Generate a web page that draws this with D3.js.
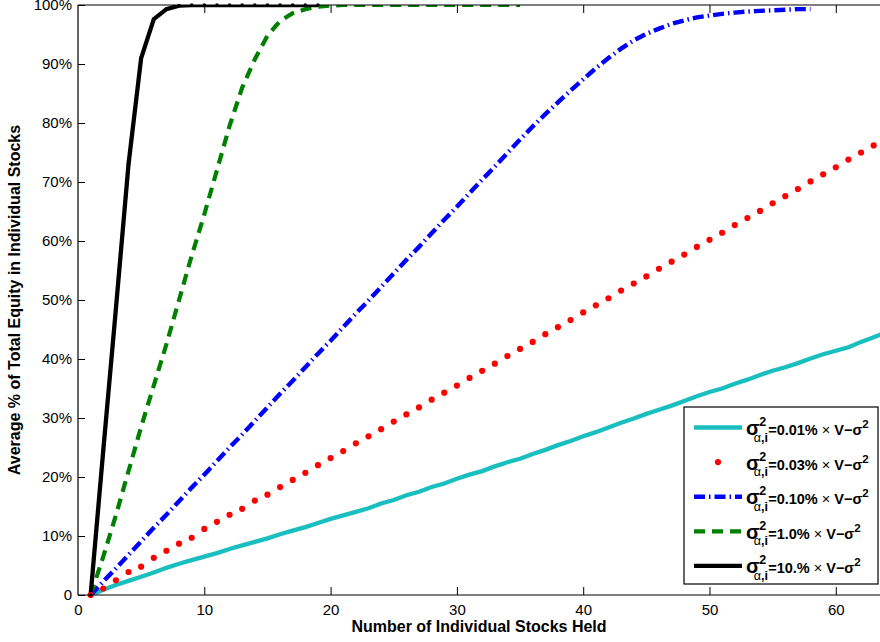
<!DOCTYPE html>
<html><head><meta charset="utf-8">
<script src="https://cdn.jsdelivr.net/npm/d3@7"></script>
<style>
body{margin:0;background:#fff}
svg{display:block}
text{font-family:"Liberation Sans",Arial,Helvetica,sans-serif;fill:#000}
</style></head>
<body>
<svg id="chart" width="880" height="642"></svg>
<script>
// ---- data (values in %, index 0 = 1 stock held) ----
const cyanVals = [0,0.9,1.7,2.4,3.1,3.8,4.6,5.3,5.9,6.5,7.1,7.8,8.4,9.0,9.6,10.3,10.9,11.5,12.2,12.9,
  13.5,14.1,14.7,15.5,16.1,16.9,17.5,18.3,18.9,19.7,20.4,21.0,21.8,22.5,23.1,23.9,24.6,25.4,26.1,26.9,
  27.6,28.4,29.2,29.9,30.7,31.4,32.1,32.9,33.7,34.4,35.0,35.8,36.5,37.3,38.0,38.6,39.3,40.1,40.8,41.4,
  42.0,42.9,43.7,44.5];
const redVals = [0,1.1,2.5,3.9,4.8,6.3,7.5,8.7,9.7,11.2,12.4,13.6,14.6,16.0,17.0,18.3,19.5,20.7,22.0,23.2,
  24.4,25.7,26.9,28.1,29.4,30.6,31.8,33.1,34.3,35.5,36.8,38.0,39.2,40.5,41.7,42.9,44.2,45.4,46.6,47.9,
  49.1,50.3,51.6,52.8,54.0,55.3,56.5,57.7,59.0,60.2,61.4,62.7,63.9,65.1,66.4,67.6,68.8,70.1,71.3,72.5,
  73.8,75.0,76.2];
const blueVals = [0,2.3,4.5,6.8,9.1,11.4,13.6,15.9,18.2,20.4,22.7,25.0,27.2,29.5,31.8,34.1,36.3,38.6,40.9,43.1,
  45.4,47.7,49.9,52.2,54.5,56.8,59.0,61.3,63.6,65.8,68.1,70.4,72.6,74.9,77.2,79.4,81.5,83.5,85.5,87.4,
  89.3,91.0,92.6,94.0,95.1,96.0,96.8,97.4,97.9,98.2,98.5,98.7,98.9,99.0,99.1,99.2,99.3,99.3];
const greenVals = [0,6.5,13.5,21,28.5,35.5,42.5,50,57.5,64.5,72,79.5,86,90.8,94.8,97.3,98.6,99.3,99.7,99.9,
  100,100,100,100,100,100,100,100,100,100,100,100,100,100,100];
const blackVals = [0,24.5,48.5,73,91,97.6,99.3,99.9,100,100,100,100,100,100,100,100,100,100,100];

const xTicks = [0,10,20,30,40,50,60];
const yTicks = [0,10,20,30,40,50,60,70,80,90,100];
const legendLabels = ["0.01%","0.03%","0.10%","1.0%","10.%"];

const series = [
  {vals: cyanVals,  color:"#19bfbf", kind:"solid"},
  {vals: redVals,   color:"#ff0000", kind:"dots"},
  {vals: blueVals,  color:"#0000ff", kind:"dashdot"},
  {vals: greenVals, color:"#008000", kind:"dash"},
  {vals: blackVals, color:"#000000", kind:"solid"}
];

// ---- layout ----
const L = 78, R = 880, T = 5, B = 595;
const x = d3.scaleLinear().domain([0, 63.5]).range([L, R]);
const y = d3.scaleLinear().domain([0, 100]).range([B, T]);

const svg = d3.select("#chart");
svg.append("defs").append("clipPath").attr("id","plotclip")
  .append("rect").attr("x",L).attr("y",T).attr("width",R-L).attr("height",B-T);

const toPts = vals => vals.map((v,i) => ({n: i+1, v}));
const line = d3.line().x(d => x(d.n)).y(d => y(d.v));

const plot = svg.append("g");
const lineG = plot.append("g").attr("clip-path","url(#plotclip)");

function styleFor(s){
  if (s.kind === "dashdot") return {w:4.4, dash:"11,4,1.5,4"};
  if (s.kind === "dash") return {w:4.2, dash:"11,7"};
  return {w:4.3, dash:null};
}

series.forEach(s => {
  const pts = toPts(s.vals);
  if (s.kind === "dots") {
    plot.append("g").selectAll("circle").data(pts).join("circle")
      .attr("cx", d => x(d.n)).attr("cy", d => y(d.v)).attr("r", 3.1)
      .attr("fill", s.color);
  } else {
    const st = styleFor(s);
    lineG.append("path").datum(pts).attr("d", line)
      .attr("fill","none").attr("stroke", s.color).attr("stroke-width", st.w)
      .attr("stroke-dasharray", st.dash).attr("stroke-linejoin","miter");
    if (s.color === "#000000") {
      plot.append("g").selectAll("circle").data(pts).join("circle")
        .attr("cx", d => x(d.n)).attr("cy", d => y(d.v)).attr("r", 1.8).attr("fill","#000");
    }
  }
});

// ---- axes ----
const axG = svg.append("g");
const xb = axG.append("g").attr("transform",`translate(0,${B})`)
  .call(d3.axisBottom(x).tickValues(xTicks).tickSizeInner(-8).tickSizeOuter(0).tickPadding(9).tickFormat(d3.format("d")));
const xt = axG.append("g").attr("transform",`translate(0,${T})`)
  .call(d3.axisTop(x).tickValues(xTicks).tickSizeInner(-8).tickSizeOuter(0).tickFormat(""));
const yl = axG.append("g").attr("transform",`translate(${L},0)`)
  .call(d3.axisLeft(y).tickValues(yTicks).tickSizeInner(-7).tickSizeOuter(0).tickPadding(6)
    .tickFormat(d => d === 0 ? "0" : d + "%"));
[xb, xt, yl].forEach(g => {
  g.select(".domain").remove();
  g.selectAll(".tick line").attr("stroke","#000");
  g.selectAll(".tick text").attr("font-size",15).attr("font-family",null).style("fill","#000");
});
xt.selectAll(".tick").filter(d => d === 0).remove();
xb.selectAll(".tick line").filter(d => d === 0).remove();

axG.append("path").attr("d",`M${L},${T}H${R}M${L},${T}V${B}M${L},${B}H${R}`)
  .attr("fill","none").attr("stroke","#000").attr("stroke-width",1.2);

// axis titles
svg.append("text").attr("x", (L+R)/2).attr("y", 632).attr("text-anchor","middle")
  .attr("font-size",16).attr("font-weight","bold").text("Number of Individual Stocks Held");
svg.append("text").attr("transform",`translate(20,${(T+B)/2}) rotate(-90)`).attr("text-anchor","middle")
  .attr("font-size",16).attr("font-weight","bold").text("Average % of Total Equity in Individual Stocks");

// ---- legend ----
const lg = svg.append("g");
lg.append("rect").attr("x",684).attr("y",407).attr("width",194).attr("height",177)
  .attr("fill","#fff").attr("stroke","#000").attr("stroke-width",1.2);
series.forEach((s,i) => {
  const yc = 427.5 + i*34.6;
  if (s.kind === "dots") {
    lg.append("circle").attr("cx",718).attr("cy",yc).attr("r",3.1).attr("fill",s.color);
  } else {
    const st = styleFor(s);
    lg.append("line").attr("x1",694).attr("x2",742).attr("y1",yc).attr("y2",yc)
      .attr("stroke",s.color).attr("stroke-width",st.w).attr("stroke-dasharray",st.dash);
  }
  const x0 = 746;
  const sig = lg.append("text").attr("x",x0).attr("y",yc+7.5).attr("font-size",20).attr("font-weight","bold").text("σ");
  const ws = sig.node().getComputedTextLength();
  const sup = lg.append("text").attr("x",x0+ws-0.5).attr("y",yc-1.5).attr("font-size",12.5).attr("font-weight","bold").text("2");
  const sub = lg.append("text").attr("x",x0+ws-6).attr("y",yc+14).attr("font-size",12.5);
  sub.append("tspan").text("α");
  sub.append("tspan").attr("font-weight","bold").text(",i");
  const xr = Math.max(x0+ws-0.5+sup.node().getComputedTextLength(), x0+ws-6+sub.node().getComputedTextLength()) + 0.3;
  const t = lg.append("text").attr("x",xr).attr("y",yc+7.5).attr("font-size",14.5).attr("font-weight","bold");
  t.append("tspan").text("=" + legendLabels[i]);
  t.append("tspan").attr("font-weight","normal").text(" × ");
  t.append("tspan").text("V−σ");
  t.append("tspan").attr("dy",-7).attr("font-size",11.5).text("2");
});
</script>
</body></html>
